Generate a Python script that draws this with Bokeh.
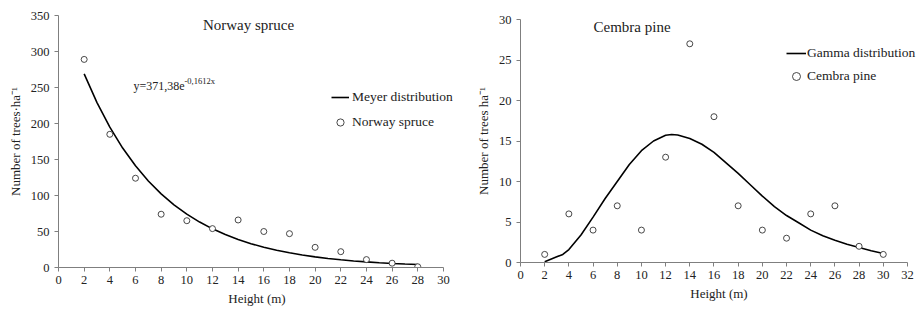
from bokeh.plotting import figure
from bokeh.layouts import row, column
from bokeh.models import Range1d, FixedTicker, Legend, LegendItem, Label
from bokeh.embed import file_html
from bokeh.resources import INLINE

# ---- data: Norway spruce ----
spruce_h = [2, 4, 6, 8, 10, 12, 14, 16, 18, 20, 22, 24, 26, 28]
spruce_n = [289, 185, 124, 74, 65, 54, 66, 50, 47, 28, 22, 11, 6, 1]
meyer_h = [2, 3, 4, 5, 6, 7, 8, 9, 10, 11, 12, 13, 14, 15, 16, 17, 18, 19, 20,
           21, 22, 23, 24, 25, 26, 27, 28]
meyer_n = [269.0, 229.0, 194.9, 165.9, 141.2, 120.2, 102.3, 87.1, 74.1, 63.1,
           53.7, 45.7, 38.9, 33.1, 28.2, 24.0, 20.4, 17.4, 14.8, 12.6, 10.7,
           9.1, 7.8, 6.6, 5.6, 4.8, 4.1]

# ---- data: Cembra pine ----
pine_h = [2, 4, 6, 8, 10, 12, 14, 16, 18, 20, 22, 24, 26, 28, 30]
pine_n = [1, 6, 4, 7, 4, 13, 27, 18, 7, 4, 3, 6, 7, 2, 1]
gamma_h = [2, 3, 3.5, 4, 5, 6, 7, 8, 9, 10, 11, 12, 12.5, 13, 14, 15, 16, 17,
           18, 19, 20, 21, 22, 23, 24, 25, 26, 27, 28, 29, 30]
gamma_n = [0.1, 0.7, 1.0, 1.6, 3.4, 5.6, 7.9, 10.0, 12.1, 13.8, 15.0, 15.7,
           15.8, 15.75, 15.3, 14.6, 13.6, 12.3, 11.0, 9.6, 8.2, 6.9, 5.8, 4.9,
           4.0, 3.3, 2.75, 2.25, 1.85, 1.45, 1.1]

left_xticks = list(range(0, 31, 2))
left_yticks = list(range(0, 351, 50))
right_xticks = list(range(0, 33, 2))
right_yticks = list(range(0, 31, 5))

FONT = "Times New Roman"
AXFONT = "Times New Roman"
AXIS_COLOR = "#7f7f7f"
TXT = "#222222"


def style(p, xt, yt, ylab, xmax):
    p.xaxis.ticker = FixedTicker(ticks=xt)
    p.yaxis.ticker = FixedTicker(ticks=yt)
    p.xaxis.bounds = (0, xmax)
    p.xgrid.visible = False
    p.ygrid.visible = False
    p.outline_line_color = None
    for ax in (p.xaxis[0], p.yaxis[0]):
        ax.axis_line_color = AXIS_COLOR
        ax.major_tick_line_color = AXIS_COLOR
        ax.minor_tick_line_color = None
        ax.major_tick_out = 4
        ax.major_tick_in = 0
        ax.major_label_text_font = AXFONT
        ax.major_label_text_font_size = "12.5px"
        ax.major_label_text_color = TXT
        ax.axis_label_text_font = AXFONT
        ax.axis_label_text_font_size = "13px"
        ax.axis_label_text_font_style = "normal"
        ax.axis_label_text_color = TXT
    p.xaxis.axis_label = "Height (m)"
    p.yaxis.axis_label = ylab
    p.xaxis.major_label_standoff = 4
    p.yaxis.major_label_standoff = 5
    p.xaxis.axis_label_standoff = 4
    p.yaxis.axis_label_standoff = 5


# ---------------- left ----------------
# frame extends slightly past x=30 so the legend text is not clipped
p1 = figure(width=460, height=309, output_backend="svg", toolbar_location=None,
            x_range=Range1d(0, 30.94), y_range=Range1d(0, 350),
            min_border_left=58, min_border_right=5, min_border_top=15,
            min_border_bottom=42)
style(p1, left_xticks, left_yticks, "Number of trees·ha⁻¹", 30)
l1 = p1.line(meyer_h, meyer_n, line_color="black", line_width=1.6)
c1 = p1.scatter(spruce_h, spruce_n, marker="circle", size=6, fill_color="white",
                line_color="#333333", line_width=0.9)
leg1 = Legend(items=[LegendItem(label="Meyer distribution", renderers=[l1]),
                     LegendItem(label="Norway spruce", renderers=[c1])],
              location=(273, 135), glyph_width=18, glyph_height=20,
              label_standoff=3, spacing=5, padding=0, margin=0,
              border_line_color=None, background_fill_alpha=0,
              label_text_font=FONT, label_text_font_size="13.5px",
              label_text_color=TXT)
p1.add_layout(leg1)
p1.add_layout(Label(x=190, y=243, x_units="screen", y_units="screen",
                    text="Norway spruce", text_font=FONT,
                    text_font_size="15px", text_align="center",
                    text_baseline="middle", text_color=TXT))
p1.add_layout(Label(x=75, y=182, x_units="screen", y_units="screen",
                    text="y=371,38e", text_font=FONT,
                    text_font_size="12px", text_align="left",
                    text_baseline="middle", text_color=TXT))
p1.add_layout(Label(x=126, y=187, x_units="screen", y_units="screen",
                    text="-0,1612x", text_font=FONT,
                    text_font_size="8.5px", text_align="left",
                    text_baseline="middle", text_color=TXT))

# ---------------- right ----------------
p2 = figure(width=457, height=309, output_backend="svg", toolbar_location=None,
            x_range=Range1d(0, 32.83), y_range=Range1d(0, 30),
            min_border_left=60, min_border_right=0, min_border_top=19,
            min_border_bottom=47)
style(p2, right_xticks, right_yticks, "Number of trees ha⁻¹", 32)
l2 = p2.line(gamma_h, gamma_n, line_color="black", line_width=1.6)
c2 = p2.scatter(pine_h, pine_n, marker="circle", size=6, fill_color="white",
                line_color="#333333", line_width=0.9)
leg2 = Legend(items=[LegendItem(label="Gamma distribution", renderers=[l2]),
                     LegendItem(label="Cembra pine", renderers=[c2])],
              location=(266, 176), glyph_width=20, glyph_height=20,
              label_standoff=1, spacing=3, padding=0, margin=0,
              border_line_color=None, background_fill_alpha=0,
              label_text_font=FONT, label_text_font_size="13.5px",
              label_text_color=TXT)
p2.add_layout(leg2)
p2.add_layout(Label(x=73, y=236, x_units="screen", y_units="screen",
                    text="Cembra pine", text_font=FONT,
                    text_font_size="15px", text_align="left",
                    text_baseline="middle", text_color=TXT))

layout = row(column(p1), column(p2), spacing=0)
open("out.html", "w").write(file_html(layout, INLINE))
